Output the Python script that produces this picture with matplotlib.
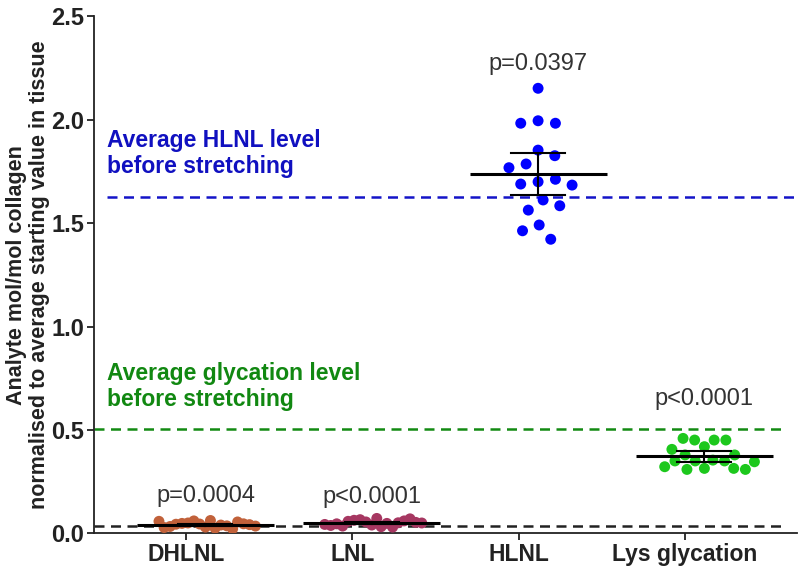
import numpy as np
import matplotlib
matplotlib.use("Agg")
import matplotlib.pyplot as plt

plt.rcParams['font.family'] = ['Liberation Sans', 'DejaVu Sans']

# --- data (dots listed roughly left to right) ---
categories = ["DHLNL", "LNL", "HLNL", "Lys glycation"]

dhlnl = [0.030, 0.062, 0.045, 0.025, 0.060, 0.040, 0.050, 0.036, 0.048,
         0.022, 0.044, 0.055, 0.033, 0.046, 0.028, 0.042, 0.058, 0.035]
lnl = [0.040, 0.072, 0.055, 0.032, 0.066, 0.048, 0.063, 0.030, 0.058,
       0.051, 0.035, 0.060, 0.046, 0.070, 0.038, 0.053, 0.043, 0.050]
hlnl = [2.152, 1.995, 1.983, 1.983, 1.853, 1.826, 1.786, 1.768, 1.700,
        1.712, 1.689, 1.684, 1.612, 1.563, 1.584, 1.491, 1.463, 1.422]
lys = [0.314, 0.354, 0.419, 0.350, 0.451, 0.350, 0.451, 0.379, 0.309,
       0.451, 0.350, 0.459, 0.379, 0.314, 0.322, 0.309, 0.406, 0.346]

means = [0.040, 0.051, 1.736, 0.374]
ci_low = [0.036, 0.047, 1.637, 0.346]
ci_high = [0.044, 0.055, 1.839, 0.398]

p_text = ["p=0.0004", "p<0.0001", "p=0.0397", "p<0.0001"]
p_y = [0.153, 0.148, 2.24, 0.621]

colors = ["#C1613A", "#A63761", "#0000FF", "#1DC81D"]

hlnl_before = 1.625
glyc_before = 0.505
low_before = 0.035

groups = [dhlnl, lnl, hlnl, lys]
swarm_d = [12, 12, 19, 12]   # dot spacing in pixels per group
swarm_w = [50, 50, 34, 50]   # max half width in pixels


def swarm(vals, ypx, d=12.0, max_half=50.0):
    """simple beeswarm in the order given, offsets returned in pixels"""
    y = np.asarray(vals) * ypx
    offs = np.zeros(len(y))
    placed = []
    for i in range(len(y)):
        cands = [0.0]
        for (px, py) in placed:
            dy = y[i] - py
            if abs(dy) < d:
                dx = np.sqrt(d**2 - dy**2)
                cands += [px + dx, px - dx]
        cands.sort(key=abs)
        for c in cands:
            if all(np.hypot(c - px, y[i] - py) >= d - 1e-6 for px, py in placed):
                offs[i] = c
                break
        placed.append((offs[i], y[i]))
    m = np.abs(offs).max()
    if m > max_half:
        offs = offs * max_half / m
    return offs


fig = plt.figure(figsize=(7.98, 5.67), dpi=100)
ax = fig.add_axes([0.1178, 0.0594, 0.881, 0.9118])
ax.set_xlim(-0.553, 3.674)
ax.set_ylim(0, 2.5)

# pixel scale of the axes
bb = ax.get_window_extent()
xpx = bb.width / (3.674 + 0.553)
ypx = bb.height / 2.5

shift = 0.117  # data sits a bit right of the tick
pos = np.arange(len(categories))

for i, vals in enumerate(groups):
    xc = pos[i] + shift
    xo = swarm(vals, ypx, swarm_d[i], swarm_w[i]) / xpx
    ax.scatter(xc + xo, vals, s=62, color=colors[i], edgecolors='none',
               zorder=3)
    ax.plot([xc - 0.412, xc + 0.412], [means[i]] * 2, color='black', lw=2.2,
            zorder=4, solid_capstyle='butt')
    ax.plot([xc, xc], [ci_low[i], ci_high[i]], color='black', lw=1.5, zorder=4)
    for yv in (ci_low[i], ci_high[i]):
        ax.plot([xc - 0.162, xc + 0.162], [yv, yv], color='black', lw=1.5,
                zorder=4)
    ax.text(xc, p_y[i], p_text[i], ha='center', va='baseline', fontsize=17,
            color='#333333')

# reference levels before stretching
dash = (0, (4, 2.6))
ax.plot([-0.475, 3.662], [hlnl_before] * 2, ls=dash, lw=1.8,
        color='#1414C8', zorder=2)
ax.plot([-0.553, 3.584], [glyc_before] * 2, ls=dash, lw=1.8,
        color='#138A13', zorder=2)
ax.plot([-0.553, 3.584], [low_before] * 2, ls=dash, lw=1.8,
        color='#222222', zorder=2)

ax.text(-0.475, 1.742, "Average HLNL level\nbefore stretching", ha='left',
        va='baseline', fontsize=16.5, fontweight='bold', color='#1010C0',
        linespacing=1.15)
ax.text(-0.475, 0.617, "Average glycation level\nbefore stretching", ha='left',
        va='baseline', fontsize=16.5, fontweight='bold', color='#118811',
        linespacing=1.15)

ax.set_xticks(pos)
ax.set_xticklabels(categories, fontsize=16.5, fontweight='bold', color='#222222')
ax.set_yticks(np.arange(0, 2.51, 0.5))
ax.set_yticklabels(["%.1f" % v for v in np.arange(0, 2.51, 0.5)],
                   fontsize=17, fontweight='bold', color='#222222')
ax.tick_params(axis='y', length=5, width=1.3, pad=2, color='#222222')
ax.tick_params(axis='x', length=5, width=1.3, pad=2, color='#222222')

for s in ('top', 'right'):
    ax.spines[s].set_visible(False)
for s in ('left', 'bottom'):
    ax.spines[s].set_linewidth(1.3)
    ax.spines[s].set_color('#222222')

ax.set_ylabel("Analyte mol/mol collagen\nnormalised to average starting value in tissue",
              fontsize=15.5, fontweight='bold', color='#222222', labelpad=1,
              linespacing=1.1)

fig.savefig("out.png", dpi=100)
